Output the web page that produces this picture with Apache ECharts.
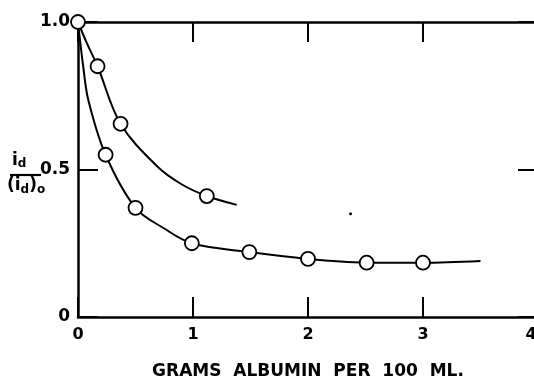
<!DOCTYPE html>
<html>
<head>
<meta charset="utf-8">
<script src="https://cdn.jsdelivr.net/npm/echarts@6/dist/echarts.min.js"></script>
<style>
html,body{margin:0;padding:0;background:#fff;}
#chart{width:534px;height:380px;}
</style>
</head>
<body>
<div id="chart"></div>
<script>
// measured points (circles)
var upperPts = [[0, 1.0], [0.17, 0.85], [0.37, 0.655], [1.12, 0.41]];
var lowerPts = [[0.24, 0.55], [0.5, 0.37], [0.99, 0.25], [1.49, 0.22], [2.0, 0.197], [2.51, 0.184], [3.0, 0.184]];
// hand-drawn fitted curves
var upperCurve = [[0, 1.0], [0.075, 0.93], [0.17, 0.85], [0.37, 0.655], [0.69, 0.51], [0.9, 0.45], [1.12, 0.41], [1.38, 0.38]];
var lowerCurve = [[0, 1.0], [0.045, 0.85], [0.09, 0.735], [0.24, 0.55], [0.5, 0.37], [0.75, 0.3], [0.99, 0.25], [1.49, 0.22], [2.0, 0.197], [2.5, 0.185], [3.0, 0.184], [3.5, 0.19]];
var speck = [[2.37, 0.35]];
var xTicks = [0, 1, 2, 3, 4];
var yTicks = [0, 0.5, 1.0];

var fnt = 'DejaVu Sans';
var chart = echarts.init(document.getElementById('chart'));

function axisX(pos, show) {
  return {
    type: 'value', position: pos, min: 0, max: 4, interval: 1,
    axisLine: {show: true, onZero: false, lineStyle: {color: '#000', width: 2.5}},
    axisTick: {show: true, inside: true, length: 20, lineStyle: {color: '#000', width: 2}},
    axisLabel: {show: show, color: '#000', fontSize: 16, fontWeight: 'bold', fontFamily: fnt, margin: 10,
      showMaxLabel: true,
      formatter: function (v) {
        if (xTicks.indexOf(v) < 0) return '';
        return v === 4 ? '{r|4}' : String(v);
      },
      rich: {r: {fontSize: 16, fontWeight: 'bold', fontFamily: fnt, color: '#000', padding: [0, 14, 0, 0]}}},
    splitLine: {show: false}
  };
}
function axisY(pos, show) {
  return {
    type: 'value', position: pos, min: 0, max: 1, interval: 0.5,
    axisLine: {show: true, onZero: false, lineStyle: {color: '#000', width: 2.5}},
    axisTick: {show: true, inside: true, length: 20, lineStyle: {color: '#000', width: 2}},
    axisLabel: {show: show, color: '#000', fontSize: 17, fontWeight: 'bold', fontFamily: fnt, margin: 8,
      formatter: function (v) { return v === 0 ? '0' : v.toFixed(1); }},
    splitLine: {show: false}
  };
}

var xBottom = axisX('bottom', true);
xBottom.name = 'GRAMS  ALBUMIN  PER  100  ML.';
xBottom.nameLocation = 'middle';
xBottom.nameGap = 46;
xBottom.nameTextStyle = {color: '#000', fontSize: 17, fontWeight: 'bold', fontFamily: fnt};

var circleStyle = {color: '#fff', borderColor: '#000', borderWidth: 1.8, opacity: 1};

var option = {
  animation: false,
  backgroundColor: '#fff',
  grid: {left: 78, top: 22, width: 460, height: 295, containLabel: false, outerBoundsMode: 'none'},
  xAxis: [xBottom, axisX('top', false)],
  yAxis: [axisY('left', true), axisY('right', false)],
  graphic: [
    {type: 'text', left: 12, top: 152, style: {text: '{a|i}{b|d}', rich: {a: {fontSize: 17, fontWeight: 'bold', fontFamily: fnt}, b: {fontSize: 12, fontWeight: 'bold', fontFamily: fnt, padding: [6, 0, 0, 0]}}}},
    {type: 'line', shape: {x1: 10, y1: 175, x2: 41, y2: 175}, style: {stroke: '#000', lineWidth: 2.2}},
    {type: 'text', left: 7, top: 177, style: {text: '{a|(i}{b|d}{a|)}{b|o}', rich: {a: {fontSize: 17, fontWeight: 'bold', fontFamily: fnt}, b: {fontSize: 12, fontWeight: 'bold', fontFamily: fnt, padding: [8, 0, 0, 0]}}}}
  ],
  series: [
    {type: 'line', data: upperCurve, smooth: 0.35, showSymbol: false, lineStyle: {color: '#000', width: 2}},
    {type: 'line', data: lowerCurve, smooth: 0.35, showSymbol: false, lineStyle: {color: '#000', width: 2}},
    {type: 'scatter', data: upperPts, symbol: 'circle', symbolSize: 14, itemStyle: circleStyle, z: 5},
    {type: 'scatter', data: lowerPts, symbol: 'circle', symbolSize: 14, itemStyle: circleStyle, z: 5},
    {type: 'scatter', data: speck, symbolSize: 3, itemStyle: {color: '#000', opacity: 1}}
  ]
};
chart.setOption(option);
</script>
</body>
</html>
